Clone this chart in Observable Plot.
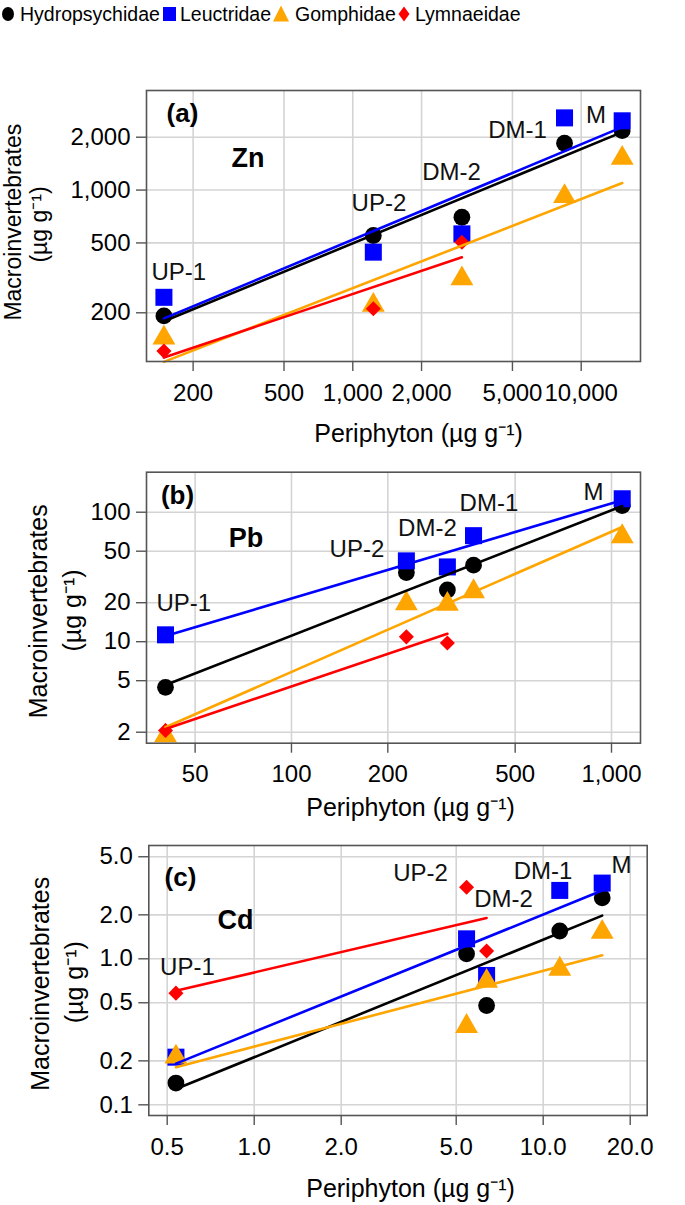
<!DOCTYPE html>
<html>
<head>
<meta charset="utf-8">
<script src="https://cdn.jsdelivr.net/npm/d3@7"></script>
<script src="https://cdn.jsdelivr.net/npm/@observablehq/plot@0.6"></script>
<style>
  body { margin: 0; background: #fff; font-family: "Liberation Sans", Arial, Helvetica, sans-serif; }
  #wrap { position: relative; width: 685px; height: 1205px; overflow: hidden; }
  .abs { position: absolute; left: 0; }
</style>
</head>
<body>
<div id="wrap"></div>
<script>
// ---------------- data ----------------
const sites = ["UP-1", "UP-2", "DM-2", "DM-1", "M"];
const species = ["Hydropsychidae", "Leuctridae", "Gomphidae", "Lymnaeidae"];
const colors = ["#000000", "#0000ff", "#ffa500", "#ff0000"];

// (a) Zn
const znPeri  = [149, 1230, 3004, 8453, 15115];
const znHydro = [192, 551, 700, 1849, 2180];
const znLeuc  = [245, 443, 563, 2577, 2480];
const znGomph = [144, 221, 313, 920, 1520];
const znLymn  = [121, 211, 505, null, null];
const znLabelX = [173, 1302, 2705, 5260, 11610];
const znLabelY = [339, 838, 1259, 2183, 2659];
const znXTicks = [200, 500, 1000, 2000, 5000, 10000];
const znYTicks = [200, 500, 1000, 2000];

// (b) Pb
const pbPeri  = [40.4, 228.6, 307, 370.6, 1080];
const pbHydro = [4.44, 34.2, 25.1, 39, 112.6];
const pbLeuc  = [11.3, 42.1, 37.8, 65.9, 127];
const pbGomph = [1.88, 19.7, 19.5, 24.4, 64.9];
const pbLymn  = [2.06, 10.9, 9.78, null, null];
const pbLabelX = [46.1, 160.2, 266, 414, 879];
const pbLabelY = [19.7, 51.5, 74.8, 116.7, 141.9];
const pbXTicks = [50, 100, 200, 500, 1000];
const pbYTicks = [2, 5, 10, 20, 50, 100];

// (c) Cd
const cdPeri  = [0.536, 5.43, 6.37, 11.41, 16.0];
const cdHydro = [0.141, 1.08, 0.479, 1.55, 2.62];
const cdLeuc  = [0.212, 1.37, 0.769, 2.94, 3.30];
const cdGomph = [0.213, 0.345, 0.703, 0.851, 1.52];
const cdLymn  = [0.582, 3.09, 1.13, null, null];
const cdLabelX = [0.5876, 3.762, 7.29, 9.98, 18.66];
const cdLabelY = [0.872, 3.84, 2.55, 3.96, 4.36];
const cdXTicks = [0.5, 1, 2, 5, 10, 20];
const cdYTicks = [0.1, 0.2, 0.5, 1, 2, 5];

const xTitle = "Periphyton (µg g⁻¹)";
const yTitle1 = "Macroinvertebrates";
const yTitle2 = "(µg g⁻¹)";

// ---------------- helpers ----------------
const FONT = '"Liberation Sans", Arial, Helvetica, sans-serif';
const dotStyle = [
  {symbol: "circle", r: 8.4, rotate: 0},
  {symbol: "square", r: 9.6, rotate: 0},
  {symbol: "triangle", r: 8.5, rotate: 0},
  {symbol: "square", r: 6, rotate: 45}
];

// least-squares fit in log-log space, drawn across the species' x range
function fitLine(xs, ys) {
  const pts = xs.map((x, i) => [x, ys[i]]).filter(d => d[1] != null);
  const lx = pts.map(d => Math.log10(d[0])), ly = pts.map(d => Math.log10(d[1]));
  const mx = d3.mean(lx), my = d3.mean(ly);
  const b = d3.sum(lx, (x, i) => (x - mx) * (ly[i] - my)) / d3.sum(lx, x => (x - mx) ** 2);
  const a = my - b * mx;
  const x0 = d3.min(pts, d => d[0]), x1 = d3.max(pts, d => d[0]);
  return [x0, x1].map(x => ({x, y: 10 ** (a + b * Math.log10(x))}));
}

function makePanel(cfg) {
  const gridStyle = {stroke: "#d4d4d4", strokeOpacity: 1, strokeWidth: 1.6};
  const marks = [
    Plot.gridX(cfg.xTicks, gridStyle),
    Plot.gridY(cfg.yTicks, gridStyle)
  ];
  species.forEach((s, k) => {
    const pts = cfg.peri.map((x, i) => ({x, y: cfg.vals[k][i]})).filter(d => d.y != null);
    marks.push(Plot.dot(pts, {
      x: "x", y: "y", fill: colors[k], stroke: "none",
      symbol: dotStyle[k].symbol, r: dotStyle[k].r, rotate: dotStyle[k].rotate
    }));
  });
  [1, 0, 2, 3].forEach(k => {
    marks.push(Plot.line(fitLine(cfg.peri, cfg.vals[k]), {
      x: "x", y: "y", stroke: colors[k], strokeWidth: 2.6
    }));
  });
  const labels = sites.map((t, i) => ({t, x: cfg.labelX[i], y: cfg.labelY[i]}));
  marks.push(
    Plot.frame({stroke: "#555", strokeWidth: 1.6}),
    // tick marks (labels drawn separately below)
    Plot.axisX(cfg.xTicks, {
      anchor: "bottom", tickFormat: () => "", tickSize: 10,
      stroke: "#555", strokeWidth: 1.4, label: null
    }),
    Plot.axisY(cfg.yTicks, {
      anchor: "left", tickFormat: () => "", tickSize: 10,
      stroke: "#555", strokeWidth: 1.4, label: null
    }),
    Plot.text(cfg.xTicks, {
      x: d => d, frameAnchor: "bottom", dy: 31.5, text: cfg.xFmt,
      textAnchor: "middle", lineAnchor: "middle", fontSize: 24, fill: "#000"
    }),
    Plot.text(cfg.yTicks, {
      y: d => d, frameAnchor: "left", dx: -16, text: cfg.yFmt,
      textAnchor: "end", lineAnchor: "middle", fontSize: 24, fill: "#000"
    }),
    Plot.text(labels, {x: "x", y: "y", text: "t", fontSize: 24, fill: "#111"}),
    Plot.text([cfg.letter], {
      frameAnchor: "top-left", text: d => d, textAnchor: "middle", lineAnchor: "middle",
      dx: cfg.letterPos[0], dy: cfg.letterPos[1], fontSize: 26, fontWeight: "bold"
    }),
    Plot.text([cfg.metal], {
      frameAnchor: "top-left", text: d => d, textAnchor: "middle", lineAnchor: "middle",
      dx: cfg.metalPos[0], dy: cfg.metalPos[1], fontSize: 27, fontWeight: "bold"
    }),
    Plot.text([xTitle], {
      frameAnchor: "bottom", text: d => d, textAnchor: "middle", lineAnchor: "middle",
      dx: cfg.xTitlePos[0], dy: cfg.xTitlePos[1], fontSize: 25
    }),
    Plot.text([yTitle1], {
      frameAnchor: "left", text: d => d, textAnchor: "middle", lineAnchor: "middle", rotate: -90,
      dx: cfg.yTitlePos[0], dy: cfg.yTitlePos[1], fontSize: cfg.yTitleSize
    }),
    Plot.text([yTitle2], {
      frameAnchor: "left", text: d => d, textAnchor: "middle", lineAnchor: "middle", rotate: -90,
      dx: cfg.yTitlePos[2], dy: cfg.yTitlePos[3], fontSize: cfg.yTitleSize
    })
  );
  return Plot.plot({
    width: 685, height: cfg.height,
    marginTop: cfg.m[0], marginRight: cfg.m[1], marginBottom: cfg.m[2], marginLeft: cfg.m[3],
    x: {type: "log", domain: cfg.xDomain},
    y: {type: "log", domain: cfg.yDomain},
    style: {fontFamily: FONT, background: "transparent", color: "#000", overflow: "visible"},
    marks
  });
}

const wrap = document.getElementById("wrap");

// ---------------- legend ----------------
(function legend() {
  const svg = d3.create("svg").attr("width", 685).attr("height", 40)
    .attr("class", "abs").style("top", "0px").style("font-family", FONT);
  const textX = [20, 180, 295, 415];
  const symX = [8, 169.5, 281, 404];
  const cy = 14;
  species.forEach((s, k) => {
    const c = colors[k], x = symX[k];
    if (k === 0) svg.append("ellipse").attr("cx", x).attr("cy", cy).attr("rx", 6).attr("ry", 7).attr("fill", c);
    if (k === 1) svg.append("rect").attr("x", x - 6.5).attr("y", cy - 7).attr("width", 13).attr("height", 14).attr("fill", c);
    if (k === 2) svg.append("path").attr("d", `M${x},${cy - 8.5}L${x + 8},${cy + 7.5}L${x - 8},${cy + 7.5}Z`).attr("fill", c);
    if (k === 3) svg.append("path").attr("d", `M${x},${cy - 7.5}L${x + 5.5},${cy}L${x},${cy + 7.5}L${x - 5.5},${cy}Z`).attr("fill", c);
    svg.append("text").attr("x", textX[k]).attr("y", cy).attr("dy", "0.35em")
      .attr("font-size", 19.5).attr("fill", "#000").text(s);
  });
  wrap.appendChild(svg.node());
})();

// ---------------- panels ----------------
const panels = [
  {
    top: 40, height: 410, m: [50, 45, 89, 146],
    peri: znPeri, vals: [znHydro, znLeuc, znGomph, znLymn],
    xDomain: [125.0, 18180], yDomain: [105.6, 3690],
    xTicks: znXTicks, yTicks: znYTicks, xFmt: d3.format(","), yFmt: d3.format(","),
    labelX: znLabelX, labelY: znLabelY,
    letter: "(a)", letterPos: [36, 23], metal: "Zn", metalPos: [101.5, 68],
    xTitlePos: [25, 72], yTitlePos: [-132.7, -3.8, -107, -1.5], yTitleSize: 23
  },
  {
    top: 450, height: 370, m: [21.7, 45, 77.3, 146],
    peri: pbPeri, vals: [pbHydro, pbLeuc, pbGomph, pbLymn],
    xDomain: [35.24, 1232], yDomain: [1.645, 203.7],
    xTicks: pbXTicks, yTicks: pbYTicks, xFmt: d3.format(","), yFmt: d3.format(","),
    labelX: pbLabelX, labelY: pbLabelY,
    letter: "(b)", letterPos: [31, 23.3], metal: "Pb", metalPos: [99.5, 66.3],
    xTitlePos: [17, 64.3], yTitlePos: [-107.7, 3.6, -73.5, 2.8], yTitleSize: 25
  },
  {
    top: 820, height: 385, m: [25, 38.3, 90, 148.3],
    peri: cdPeri, vals: [cdHydro, cdLeuc, cdGomph, cdLymn],
    xDomain: [0.4318, 22.9], yDomain: [0.0845, 5.97],
    xTicks: cdXTicks, yTicks: cdYTicks, xFmt: d3.format(".1f"), yFmt: d3.format(".1f"),
    labelX: cdLabelX, labelY: cdLabelY,
    letter: "(c)", letterPos: [31.7, 32], metal: "Cd", metalPos: [86.7, 75],
    xTitlePos: [12.5, 73], yTitlePos: [-108.3, 3.3, -74.3, 1.7], yTitleSize: 25
  }
];

panels.forEach(cfg => {
  const node = makePanel(cfg);
  node.setAttribute("class", "abs");
  node.style.top = cfg.top + "px";
  node.style.position = "absolute";
  wrap.appendChild(node);
});
</script>
</body>
</html>
